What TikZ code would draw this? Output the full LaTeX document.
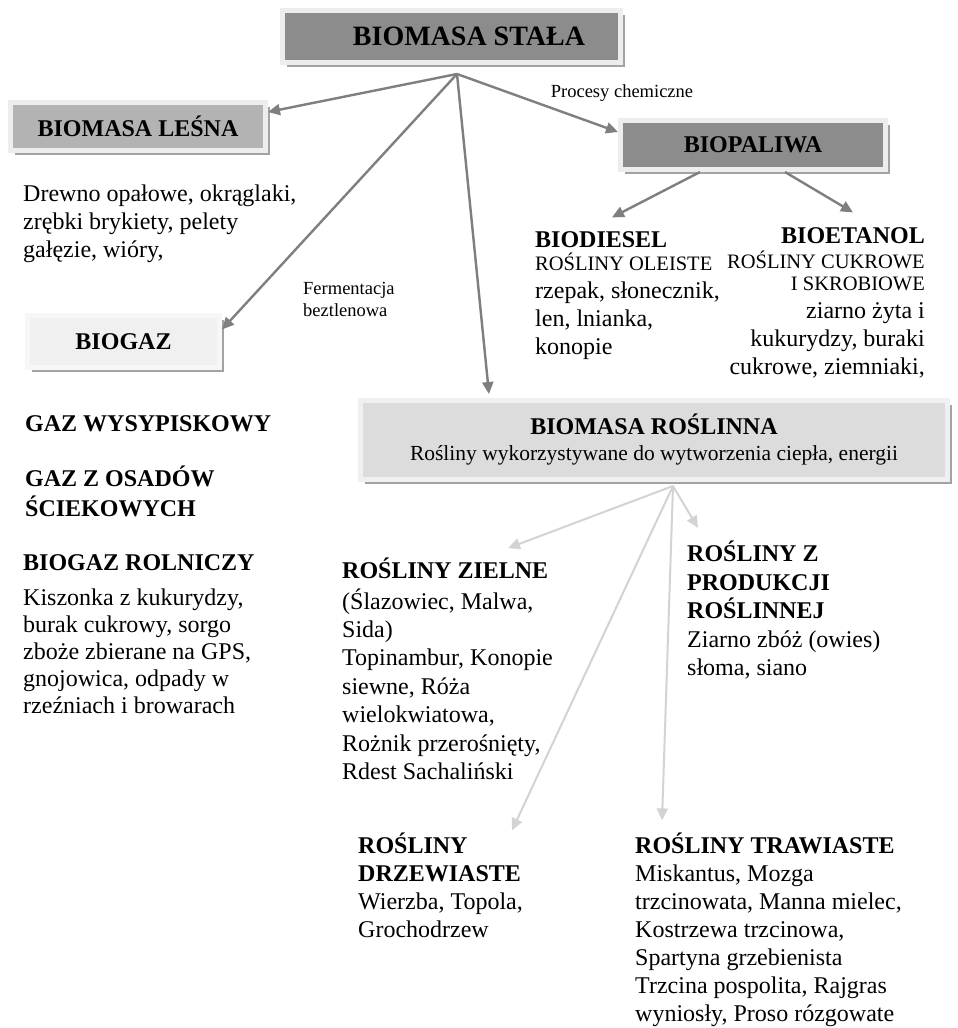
\documentclass[tikz,border=0pt]{standalone}
\usepackage{fontspec}
\setmainfont{Liberation Serif}
\usetikzlibrary{arrows.meta,shadows}
\definecolor{framec}{HTML}{EDEDED}
\definecolor{shadowc}{HTML}{A3A3A3}
\definecolor{darkfill}{HTML}{8C8C8C}
\definecolor{midfill}{HTML}{B3B3B3}
\definecolor{lightfill}{HTML}{F0F0F0}
\definecolor{palefill}{HTML}{DCDCDC}
\definecolor{arrdark}{HTML}{7F7F7F}
\definecolor{arrlight}{HTML}{D3D3D3}
\newcommand\smcaps{\fontsize{20.5}{24}\selectfont}
\begin{document}
\begin{tikzpicture}[x=1pt,y=-1pt,
  box/.style={rectangle, draw=framec, line width=5pt, inner sep=0pt, align=center,
    font=\bfseries\fontsize{24}{28}\selectfont,
    drop shadow={shadow xshift=4pt, shadow yshift=-4pt, fill=shadowc, opacity=1}},
  txt/.style={inner sep=0pt, anchor=north west, align=left, font=\fontsize{24}{28}\selectfont},
  lbl/.style={inner sep=0pt, align=left, font=\fontsize{18.5}{22}\selectfont},
  darr/.style={draw=arrdark, line width=2.4pt, -{Triangle[length=12pt,width=11pt]}},
  larr/.style={draw=arrlight, line width=2pt, -{Triangle[length=12pt,width=11pt]}}
]
\fill[white] (0,0) rectangle (958,1028);
\useasboundingbox (0,0) rectangle (958,1028);

% boxes
\node[box, fill=darkfill, minimum width=338pt, minimum height=52pt,
  font=\bfseries\fontsize{28}{32}\selectfont] (top) at (451.5,36.5) {\hspace*{35pt}BIOMASA STAŁA};
\node[box, fill=midfill, minimum width=255pt, minimum height=48pt] (lesna) at (138,126.5) {BIOMASA LEŚNA};
\node[box, fill=darkfill, minimum width=265pt, minimum height=49pt] (biopal) at (753,145) {BIOPALIWA};
\node[box, fill=lightfill, draw=white!97!black, minimum width=192pt, minimum height=52pt] (biogaz) at (123.5,341.5) {BIOGAZ};
\node[box, fill=palefill, draw=white!94!black, minimum width=587pt, minimum height=79pt] (rosl) at (654,440)
  {BIOMASA ROŚLINNA\\[-2pt]{\mdseries\fontsize{21.5}{26}\selectfont Rośliny wykorzystywane do wytworzenia ciepła, energii}};

% labels
\node[lbl] (proc) at (622,93) {Procesy chemiczne};
\node[lbl, anchor=north west] (ferm) at (303,278.6) {\strut Fermentacja\\beztlenowa};

% text blocks
\node[txt] (drewno) at (23,181.4) {\strut Drewno opałowe, okrąglaki,\\zrębki brykiety, pelety\\gałęzie, wióry,};
\node[txt] (diesel) at (535,227.4) {\strut\textbf{BIODIESEL}\\[-5pt]{\smcaps ROŚLINY OLEISTE}\\rzepak, słonecznik,\\len, lnianka,\\konopie};
\node[txt, anchor=north east, align=right] (etanol) at (925,223.4)
  {\strut\textbf{BIOETANOL}\\[-3pt]{\smcaps ROŚLINY CUKROWE}\\[-6pt]{\smcaps I SKROBIOWE}\\ziarno żyta i\\kukurydzy, buraki\\cukrowe, ziemniaki,};
\node[txt] (wys) at (25,411.4) {\strut\textbf{GAZ WYSYPISKOWY}};
\node[txt] (osad) at (25,465.4) {\strut\textbf{GAZ Z OSADÓW}\\\textbf{ŚCIEKOWYCH}};
\node[txt, font=\fontsize{24}{27}\selectfont] (rol) at (23,551.1)
  {\strut\textbf{BIOGAZ ROLNICZY}\\[8pt]Kiszonka z kukurydzy,\\burak cukrowy, sorgo\\zboże zbierane na GPS,\\gnojowica, odpady w\\rzeźniach i browarach};
\node[txt, font=\fontsize{24}{28.4}\selectfont] (ziel) at (342,558.1)
  {\strut\textbf{ROŚLINY ZIELNE}\\(Ślazowiec, Malwa,\\Sida)\\Topinambur, Konopie\\siewne, Róża\\wielokwiatowa,\\Rożnik przerośnięty,\\Rdest Sachaliński};
\node[txt, font=\fontsize{24}{28.5}\selectfont] (prod) at (687,541)
  {\strut\textbf{ROŚLINY Z}\\\textbf{PRODUKCJI}\\\textbf{ROŚLINNEJ}\\Ziarno zbóż (owies)\\słoma, siano};
\node[txt] (drzew) at (358,832.4) {\strut\textbf{ROŚLINY}\\\textbf{DRZEWIASTE}\\Wierzba, Topola,\\Grochodrzew};
\node[txt] (traw) at (635,832.4)
  {\strut\textbf{ROŚLINY TRAWIASTE}\\Miskantus, Mozga\\trzcinowata, Manna mielec,\\Kostrzewa trzcinowa,\\Spartyna grzebienista\\Trzcina pospolita, Rajgras\\wyniosły, Proso rózgowate};

% hubs
\coordinate (hubA) at (457,74);
\coordinate (hubB) at (673,486);

% dark arrows
\draw[darr] (hubA) -- ([yshift=14.5pt]lesna.east);
\draw[darr] (hubA) -- ([yshift=13pt]biopal.west);
\draw[darr] (hubA) -- ([yshift=12pt]biogaz.east);
\draw[darr] (hubA) -- ([xshift=-165pt,yshift=4pt]rosl.north);
\draw[darr] ([xshift=-53pt]biopal.south) -- ([shift={(77,-10)}]diesel.north west);
\draw[darr] ([xshift=32pt]biopal.south) -- ([shift={(-72,-11)}]etanol.north east);

% light arrows
\draw[larr] (hubB) -- ([shift={(166,-10)}]ziel.north west);
\draw[larr] (hubB) -- ([shift={(11,-13)}]prod.north west);
\draw[larr] (hubB) -- ([shift={(154,-2)}]drzew.north west);
\draw[larr] (hubB) -- ([shift={(27,-12)}]traw.north west);
\end{tikzpicture}
\end{document}
